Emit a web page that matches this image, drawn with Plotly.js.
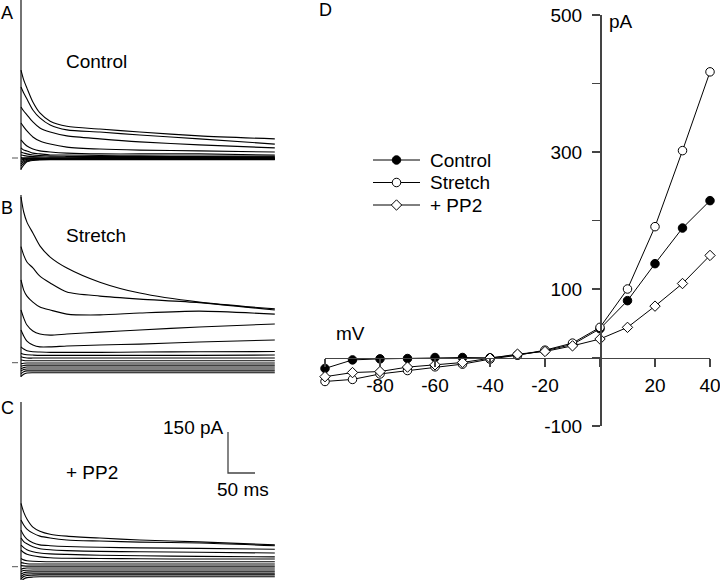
<!DOCTYPE html>
<html><head><meta charset="utf-8">
<script src="https://cdn.plot.ly/plotly-3.0.1.min.js"></script>
<style>html,body{margin:0;padding:0;background:#fff}#chart{width:720px;height:580px}</style>
</head><body><div id="chart"></div>
<script>
const FONT = 'Liberation Sans, Arial, Helvetica, sans-serif';

// ---- Panel D: I-V relation ----
const voltages  = [-100, -90, -80, -70, -60, -50, -40, -30, -20, -10, 0, 10, 20, 30, 40];
const ivControl = [-16, -3.5, -2, -1.5, 0, 0, -0.5, 3.5, 10, 19, 42, 83, 137, 189, 229];
const ivStretch = [-35, -32, -24, -19, -13.6, -9.7, -2.4, 3.4, 10.7, 21, 44, 100, 191, 302, 417];
const ivPP2     = [-28, -22, -20.5, -14, -10.7, -7.3, -1, 4.9, 8.8, 17, 27, 44, 75, 108, 149];
const seriesNames = ['Control', 'Stretch', '+ PP2'];
const ivXTicks = [-100, -80, -60, -40, -20, 0, 20, 40];
const ivXTickText = ['', '-80', '-60', '-40', '-20', '', '20', '40'];
const ivYTicks = [-100, 0, 100, 200, 300, 400, 500];
const ivYTickText = ['-100', '', '100', '', '300', '', '500'];

// ---- Panels A-C: current traces (pA) at sample times (ms), one row per voltage step -100..+40 mV ----
const traceTimes = [0, 5, 11, 22, 35, 54, 85, 146, 220, 330, 470];
const controlTraces = [
  [-40, -26, -14, -9, -7, -6, -6, -6, -6, -6, -6],
  [-30, -20, -11, -7, -5, -5, -5, -5, -5, -5, -5],
  [-22, -14, -8, -5, -4, -4, -4, -4, -4, -4, -4],
  [-15, -9, -5, -3, -3, -3, -3, -3, -3, -3, -3],
  [-8, -5, -3, -2, -2, -2, -2, -2, -2, -2, -2],
  [-3, -2, -1, -1, -1, -1, -1, -1, -1, -1, -1],
  [2, 1, 1, 1, 0, 0, 0, 0, 0, 0, 0],
  [11, 9, 7, 5, 4, 3, 3, 2, 2, 2, 2],
  [22, 18, 15, 11, 9, 7, 6, 5, 5, 5, 4],
  [37, 29, 26, 18, 15, 11, 11, 9, 8, 7, 7],
  [66, 55, 44, 33, 26, 22, 18, 15, 15, 15, 11],
  [128, 114, 99, 77, 62, 51, 40, 33, 29, 26, 22],
  [187, 172, 158, 132, 110, 95, 81, 70, 59, 48, 37],
  [260, 238, 216, 176, 147, 121, 103, 95, 84, 70, 51],
  [322, 286, 256, 205, 165, 135, 116, 106, 95, 81, 70]
];
const stretchTraces = [
  [-50, -42, -38, -37, -37, -37, -37, -37, -37, -37, -37],
  [-40, -33, -30, -30, -30, -30, -30, -30, -30, -30, -30],
  [-30, -25, -23, -23, -23, -23, -23, -23, -23, -23, -23],
  [-22, -18, -16, -16, -16, -16, -16, -16, -16, -16, -16],
  [-13, -10, -9, -9, -9, -9, -9, -9, -9, -9, -9],
  [-4, -2, -1, -1, -1, -1, -1, -1, -1, -1, -1],
  [10, 8, 7, 7, 7, 7, 7, 7, 7, 7, 7],
  [22, 19, 17, 17, 17, 17, 17, 17, 17, 17, 17],
  [35, 31, 29, 28, 27, 27, 27, 27, 27, 27, 28],
  [58, 50, 44, 40, 39, 38, 38, 38, 39, 40, 41],
  [120, 98, 79, 65, 58, 58, 61, 65, 68, 76, 83],
  [193, 164, 138, 116, 105, 101, 105, 112, 120, 131, 142],
  [303, 266, 244, 222, 204, 193, 178, 175, 182, 189, 178],
  [425, 394, 369, 347, 317, 292, 259, 244, 233, 220, 193],
  [607, 552, 515, 475, 428, 387, 347, 295, 255, 222, 197]
];
const pp2Traces = [
  [-55, -45, -40, -38, -37, -37, -37, -37, -37, -37, -37],
  [-45, -36, -32, -31, -30, -30, -30, -30, -30, -30, -30],
  [-36, -29, -27, -26, -26, -26, -26, -26, -26, -26, -26],
  [-27, -22, -20, -19, -19, -19, -19, -19, -19, -19, -19],
  [-18, -14, -13, -12, -12, -12, -12, -12, -12, -12, -12],
  [-9, -6, -5, -5, -5, -5, -5, -5, -5, -5, -5],
  [4, 3, 2, 2, 2, 2, 2, 2, 2, 2, 2],
  [15, 13, 11, 10, 10, 10, 10, 10, 10, 10, 10],
  [30, 25, 22, 20, 19, 18, 18, 18, 18, 18, 18],
  [61, 52, 46, 40, 36, 33, 31, 30, 29, 28, 28],
  [79, 70, 62, 55, 50, 47, 45, 42, 40, 38, 36],
  [105, 92, 84, 73, 66, 62, 59, 56, 55, 53, 50],
  [134, 115, 101, 88, 80, 77, 74, 71, 69, 67, 64],
  [171, 153, 138, 123, 112, 105, 98, 94, 90, 87, 77],
  [232, 200, 175, 145, 130, 119, 112, 105, 98, 91, 80]
];
// capacitive transient at pulse onset (pA, top and bottom)
const spikeControl = [579, -44];
const spikeStretch = [614, -52];
const spikePP2 = [603, -49];
// scale bar: 150 pA, 50 ms
const scaleBarPA = 150, scaleBarMS = 50;

// ---- geometry (pixels in a 720x580 page) ----
const W = 720, H = 580;
const fx = x => x / W, fy = y => 1 - y / H;
const PX_PER_MS = 0.54, PX_PER_PA = 0.273, T0PX = 21;
const panels = [
  {ax: '2', top: 0, bottom: 175, base: 158, data: controlTraces, spike: spikeControl},
  {ax: '3', top: 190, bottom: 382, base: 362.7, data: stretchTraces, spike: spikeStretch},
  {ax: '4', top: 395, bottom: 580, base: 566.7, data: pp2Traces, spike: spikePP2}
];

const traces = [];
const layout = {
  width: W, height: H, margin: {l: 0, r: 0, t: 0, b: 0},
  paper_bgcolor: '#fff', plot_bgcolor: 'rgba(0,0,0,0)',
  font: {family: FONT, size: 19, color: '#000'},
  showlegend: false,
  shapes: [], annotations: []
};

panels.forEach(p => {
  const xr = [(8 - T0PX) / PX_PER_MS, (280 - T0PX) / PX_PER_MS];
  const yr = [-(p.bottom - p.base) / PX_PER_PA, (p.base - p.top) / PX_PER_PA];
  layout['xaxis' + p.ax] = {domain: [fx(8), fx(280)], range: xr, visible: false, anchor: 'y' + p.ax, fixedrange: true};
  layout['yaxis' + p.ax] = {domain: [fy(p.bottom), fy(p.top)], range: yr, visible: false, anchor: 'x' + p.ax, fixedrange: true};
  p.data.forEach(vals => {
    traces.push({x: traceTimes, y: vals, xaxis: 'x' + p.ax, yaxis: 'y' + p.ax, type: 'scatter', mode: 'lines',
      line: {color: '#000', width: 1.1, shape: 'spline', smoothing: 0.7}, showlegend: false, hoverinfo: 'skip'});
  });
  traces.push({x: [0, 0], y: p.spike, xaxis: 'x' + p.ax, yaxis: 'y' + p.ax, type: 'scatter', mode: 'lines',
    line: {color: '#000', width: 1.1}, showlegend: false, hoverinfo: 'skip'});
  // zero-current marker
  layout.shapes.push({type: 'line', xref: 'x' + p.ax, yref: 'y' + p.ax,
    x0: (12 - T0PX) / PX_PER_MS, x1: (18 - T0PX) / PX_PER_MS, y0: 0, y1: 0, line: {color: '#555', width: 1}});
});

// scale bar in panel C
const sbT = (228 - T0PX) / PX_PER_MS, sbY = (566.7 - 473) / PX_PER_PA;
layout.shapes.push({type: 'path', xref: 'x4', yref: 'y4',
  path: `M${sbT},${sbY + scaleBarPA} L${sbT},${sbY} L${sbT + scaleBarMS},${sbY}`, line: {color: '#444', width: 1.3}});

// IV panel axes
layout.xaxis = {domain: [fx(325), fx(710)], range: [-100, 40], anchor: 'free', position: fy(357.5),
  showline: true, linecolor: '#444', linewidth: 1.5, ticks: 'outside', ticklen: 8, tickwidth: 1.5, tickcolor: '#444',
  tickmode: 'array', tickvals: ivXTicks, ticktext: ivXTickText, showgrid: false, zeroline: false,
  tickfont: {family: FONT, size: 19, color: '#000'}, ticklabelstandoff: 2, ticklabeloverflow: 'allow', fixedrange: true};
layout.yaxis = {domain: [fy(426), fy(15)], range: [-100, 500], anchor: 'free', position: fx(600),
  showline: true, linecolor: '#444', linewidth: 1.5, ticks: 'outside', ticklen: 8, tickwidth: 1.5, tickcolor: '#444',
  tickmode: 'array', tickvals: ivYTicks, ticktext: ivYTickText, showgrid: false, zeroline: false,
  tickfont: {family: FONT, size: 19, color: '#000'}, ticklabelstandoff: 6, ticklabeloverflow: 'allow', fixedrange: true};

const ivSeries = [ivControl, ivStretch, ivPP2];
const markers = [
  {symbol: 'circle', size: 8.5, color: '#000', line: {color: '#000', width: 1}},
  {symbol: 'circle', size: 8.5, color: '#fff', line: {color: '#000', width: 1}},
  {symbol: 'diamond', size: 8, color: '#fff', line: {color: '#000', width: 1}}
];
ivSeries.forEach((s, i) => {
  traces.push({x: voltages, y: s, name: seriesNames[i], type: 'scatter', mode: 'lines+markers',
    line: {color: '#000', width: 1}, marker: markers[i], cliponaxis: false, xaxis: 'x', yaxis: 'y', hoverinfo: 'x+y'});
});

// legend for panel D (sample line + marker per series, drawn on a hidden axis pair)
const LEG_ROW0 = 160, LEG_DY = 22.5;
layout.xaxis5 = {domain: [fx(373), fx(420)], range: [0, 1], visible: false, anchor: 'y5', fixedrange: true};
layout.yaxis5 = {domain: [fy(215), fy(150)], range: [(215 - LEG_ROW0) / LEG_DY, (150 - LEG_ROW0) / LEG_DY],
  visible: false, anchor: 'x5', fixedrange: true};
seriesNames.forEach((nm, i) => {
  traces.push({x: [0, 1], y: [i, i], xaxis: 'x5', yaxis: 'y5', type: 'scatter', mode: 'lines',
    line: {color: '#000', width: 1}, showlegend: false, hoverinfo: 'skip', cliponaxis: false});
  traces.push({x: [0.5], y: [i], xaxis: 'x5', yaxis: 'y5', type: 'scatter', mode: 'markers',
    marker: markers[i], showlegend: false, hoverinfo: 'skip', cliponaxis: false});
});

// texts
const addText = (text, x, y, xanchor, size) => layout.annotations.push({text, x: fx(x), y: fy(y), xref: 'paper', yref: 'paper',
  xanchor, yanchor: 'middle', showarrow: false, font: {family: FONT, size: size || 19, color: '#000'}});
seriesNames.forEach((nm, i) => addText(nm, 428, LEG_ROW0 + i * LEG_DY, 'left'));
addText('A', -1, 13, 'left', 18);
addText('B', -1, 208, 'left', 18);
addText('C', -1, 408, 'left', 18);
addText('D', 317, 10, 'left', 18);
addText('Control', 64, 61, 'left');
addText('Stretch', 64, 235, 'left');
addText('+ PP2', 64, 472, 'left');
addText('150 pA', 226, 427, 'right');
addText('50 ms', 215, 489, 'left');
addText('pA', 607, 21, 'left');
addText('mV', 334, 333, 'left');

Plotly.newPlot('chart', traces, layout, {displayModeBar: false, staticPlot: true});
</script></body></html>
